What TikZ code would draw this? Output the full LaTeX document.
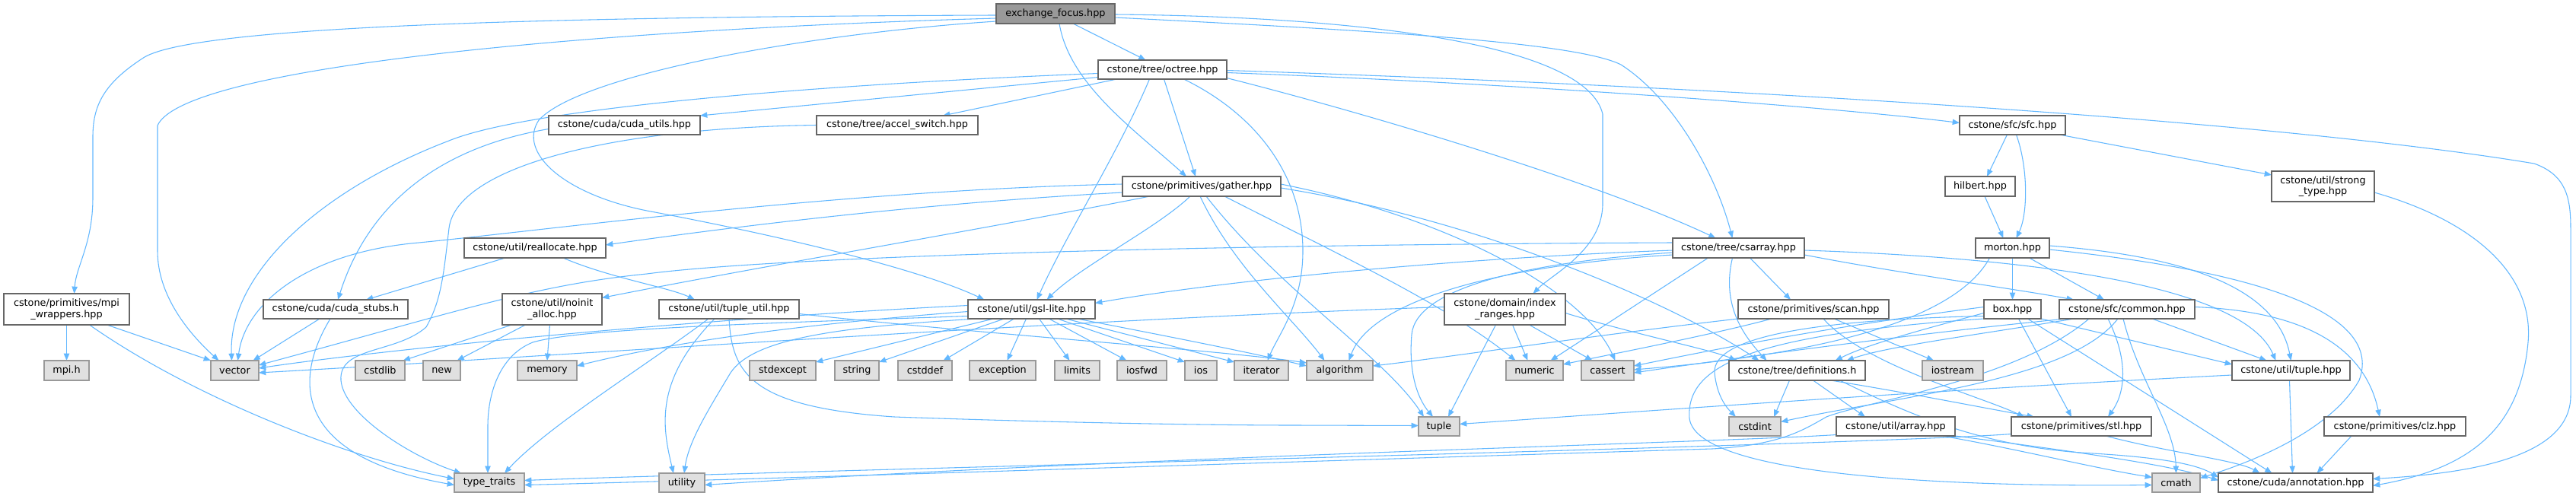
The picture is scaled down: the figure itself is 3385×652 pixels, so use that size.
\documentclass[tikz,border=0pt]{standalone}
\usepackage{fontspec}
\setmainfont{DejaVu Sans}
\usetikzlibrary{arrows.meta,calc}
\definecolor{eblue}{HTML}{63B8FF}
\definecolor{cdark}{HTML}{666666}
\definecolor{cmid}{HTML}{999999}
\definecolor{cleaf}{HTML}{E0E0E0}
\pgfdeclarelayer{bg}
\pgfdeclarelayer{paper}
\pgfsetlayers{paper,bg,main}
\newcommand\mknode[7]{\node[#6, minimum width={(#4-#2)*0.75pt}, minimum height={(#5-#3)*0.75pt}] (#1) at ({(#2+#4)/2},{(#3+#5)/2}) {#7};}
\begin{document}
\begin{tikzpicture}[x=0.75pt,y=-0.75pt,
  base/.style={draw, inner sep=0pt, outer sep=0pt, font=\fontsize{9.6}{11}\selectfont, align=center, line width=0.9pt},
  nrm/.style={base, draw=cdark, fill=white},
  leaf/.style={base, draw=cmid, fill=cleaf},
  mainnode/.style={base, draw=cdark, fill=cmid},
  edge/.style={draw=eblue, line width=0.8pt, -{Triangle[length=7pt,width=5.5pt]}}]
\useasboundingbox (0,0) rectangle (3385,652);
\begin{pgfonlayer}{paper}
\fill[white] (0,0) rectangle (3385,652);
\end{pgfonlayer}
% nodes
\mknode{ef}{1309}{5}{1465}{31}{mainnode}{exchange\_focus.hpp}
\mknode{mpiw}{5}{386}{170}{427}{nrm}{cstone/primitives/mpi\\\_wrappers.hpp}
\mknode{vector}{277}{474}{340}{500}{leaf}{vector}
\mknode{octree}{1443}{79}{1612}{104}{nrm}{cstone/tree/octree.hpp}
\mknode{gather}{1475}{232}{1683}{258}{nrm}{cstone/primitives/gather.hpp}
\mknode{gsl}{1272}{394}{1439}{419}{nrm}{cstone/util/gsl-lite.hpp}
\mknode{idx}{1898}{386}{2057}{427}{nrm}{cstone/domain/index\\\_ranges.hpp}
\mknode{csarray}{2198}{313}{2371}{339}{nrm}{cstone/tree/csarray.hpp}
\mknode{cudautils}{721}{152}{920}{177}{nrm}{cstone/cuda/cuda\_utils.hpp}
\mknode{accel}{1073}{152}{1285}{177}{nrm}{cstone/tree/accel\_switch.hpp}
\mknode{sfc}{2575}{152}{2714}{177}{nrm}{cstone/sfc/sfc.hpp}
\mknode{annot}{2915}{622}{3118}{647}{nrm}{cstone/cuda/annotation.hpp}
\mknode{hilbert}{2556}{232}{2648}{258}{nrm}{hilbert.hpp}
\mknode{strong}{2985}{225}{3120}{265}{nrm}{cstone/util/strong\\\_type.hpp}
\mknode{morton}{2596}{313}{2693}{339}{nrm}{morton.hpp}
\mknode{realloc}{610}{313}{796}{339}{nrm}{cstone/util/reallocate.hpp}
\mknode{cudastubs}{346}{394}{536}{419}{nrm}{cstone/cuda/cuda\_stubs.h}
\mknode{noinit}{660}{386}{791}{427}{nrm}{cstone/util/noinit\\\_alloc.hpp}
\mknode{tupleutil}{866}{394}{1050}{419}{nrm}{cstone/util/tuple\_util.hpp}
\mknode{mpih}{58}{474}{117}{500}{leaf}{mpi.h}
\mknode{cstdlib}{467}{474}{532}{500}{leaf}{cstdlib}
\mknode{new}{556}{474}{605}{500}{leaf}{new}
\mknode{memory}{680}{474}{758}{500}{leaf}{memory}
\mknode{typetraits}{597}{622}{689}{647}{leaf}{type\_traits}
\mknode{stdexcept}{985}{474}{1072}{500}{leaf}{stdexcept}
\mknode{string}{1097}{474}{1155}{500}{leaf}{string}
\mknode{cstddef}{1180}{474}{1251}{500}{leaf}{cstddef}
\mknode{exception}{1274}{474}{1361}{500}{leaf}{exception}
\mknode{limits}{1386}{474}{1445}{500}{leaf}{limits}
\mknode{iosfwd}{1468}{474}{1533}{500}{leaf}{iosfwd}
\mknode{ios}{1557}{474}{1599}{500}{leaf}{ios}
\mknode{iterator}{1622}{474}{1693}{500}{leaf}{iterator}
\mknode{utility}{866}{622}{926}{647}{leaf}{utility}
\mknode{algorithm}{1717}{474}{1804}{500}{leaf}{algorithm}
\mknode{numeric}{1979}{474}{2054}{500}{leaf}{numeric}
\mknode{cassert}{2078}{474}{2147}{500}{leaf}{cassert}
\mknode{tuple}{1864}{548}{1918}{573}{leaf}{tuple}
\mknode{scan}{2284}{394}{2482}{419}{nrm}{cstone/primitives/scan.hpp}
\mknode{defs}{2272}{474}{2451}{500}{nrm}{cstone/tree/definitions.h}
\mknode{cstdint}{2272}{548}{2340}{573}{leaf}{cstdint}
\mknode{array}{2413}{548}{2569}{573}{nrm}{cstone/util/array.hpp}
\mknode{iostream}{2526}{474}{2606}{500}{leaf}{iostream}
\mknode{box}{2607}{394}{2682}{419}{nrm}{box.hpp}
\mknode{common}{2706}{394}{2884}{419}{nrm}{cstone/sfc/common.hpp}
\mknode{tuplehpp}{2933}{474}{3088}{500}{nrm}{cstone/util/tuple.hpp}
\mknode{stl}{2643}{548}{2827}{573}{nrm}{cstone/primitives/stl.hpp}
\mknode{clz}{3054}{548}{3240}{573}{nrm}{cstone/primitives/clz.hpp}
\mknode{cmath}{2828}{622}{2891}{647}{leaf}{cmath}
\begin{pgfonlayer}{bg}
% exchange_focus
\draw[edge] ($(ef.west)+(0,2)$) .. controls (700,22) and (260,35) .. (190,75) .. controls (135,110) and (122,140) .. (122,180) -- (122,260) .. controls (122,320) and (100,350) .. ($(mpiw.north)+(10,0)$);
\draw[edge] ($(ef.west)+(0,6)$) .. controls (750,40) and (240,90) .. (207,165) -- (207,330) .. controls (207,390) and (250,440) .. ($(vector.north)+(-21,0)$);
\draw[edge] ($(ef.west)+(0,10)$) .. controls (1050,45) and (760,100) .. (708,158) .. controls (680,200) and (740,255) .. (850,277) .. controls (1000,305) and (1200,350) .. ($(gsl.north)+(-62,0)$);
\draw[edge] ($(ef.south)+(23,0)$) -- ($(octree.north)+(-22,0)$);
\draw[edge] ($(ef.south)+(5,0)$) .. controls (1405,110) and (1490,170) .. ($(gather.north)+(-20,0)$);
\draw[edge] ($(ef.east)+(0,1)$) .. controls (1800,22) and (2085,60) .. (2106,150) -- (2106,270) .. controls (2104,330) and (2040,360) .. ($(idx.north)+(37,0)$);
\draw[edge] ($(ef.east)+(0,5)$) .. controls (1800,40) and (2070,55) .. (2130,85) .. controls (2200,130) and (2255,230) .. ($(csarray.north)+(-8,0)$);
% octree
\draw[edge] ($(octree.west)+(0,10)$) -- (cudautils.north east);
\draw[edge] ($(octree.south)+(-60,0)$) -- ($(accel.north)+(60,0)$);
\draw[edge] ($(octree.south)+(2,0)$) -- ($(gather.north)+(-8,0)$);
\draw[edge] ($(octree.south)+(-17,0)$) .. controls (1470,200) and (1400,310) .. ($(gsl.north)+(7,0)$);
\draw[edge] ($(octree.south)+(28,0)$) .. controls (1650,150) and (1712,230) .. (1712,330) .. controls (1712,400) and (1680,440) .. ($(iterator.north)+(8,0)$);
\draw[edge] ($(octree.east)+(0,4)$) .. controls (2000,110) and (2400,140) .. ($(sfc.west)+(0,-3)$);
\draw[edge] ($(octree.east)+(0,1)$) .. controls (2300,115) and (3000,160) .. (3330,215) .. controls (3372,230) and (3378,260) .. (3378,300) -- (3378,520) .. controls (3378,600) and (3250,622) .. ($(annot.east)+(0,-5)$);
\draw[edge] ($(octree.east)+(0,11)$) .. controls (1800,150) and (2100,240) .. ($(csarray.north)+(-30,0)$);
\draw[edge] ($(octree.west)+(0,5)$) .. controls (1100,110) and (700,140) .. (590,185) .. controls (420,250) and (300,360) .. ($(vector.north)+(-4,0)$);
% cuda_utils, accel_switch
\draw[edge] ($(cudautils.west)+(0,5)$) .. controls (600,190) and (490,250) .. ($(cudastubs.north)+(3,0)$);
\draw[edge] (accel.west) .. controls (800,168) and (600,220) .. (590,300) .. controls (583,360) and (580,395) .. (560,430) .. controls (520,465) and (445,455) .. (448,500) .. controls (452,545) and (540,600) .. ($(typetraits.north)+(-37,0)$);
% mpi_wrappers
\draw[edge] (mpiw.south) -- (mpih.north);
\draw[edge] ($(mpiw.south)+(53,0)$) -- (vector.north west);
\draw[edge] ($(mpiw.south)+(30,0)$) .. controls (250,520) and (450,600) .. ($(typetraits.west)+(0,-5)$);
% cuda_stubs
\draw[edge] ($(cudastubs.south)+(-21,0)$) -- ($(vector.north)+(24,0)$);
\draw[edge] ($(cudastubs.south)+(-7,0)$) .. controls (385,500) and (385,600) .. ($(typetraits.west)+(0,3)$);
% reallocate
\draw[edge] ($(realloc.south)+(-39,0)$) -- ($(cudastubs.north)+(40,0)$);
\draw[edge] ($(realloc.south)+(37,0)$) .. controls (800,365) and (880,378) .. ($(tupleutil.north)+(-45,0)$);
% noinit
\draw[edge] ($(noinit.south)+(-53,0)$) -- ($(cstdlib.north)+(30,0)$);
\draw[edge] ($(noinit.south)+(-35,0)$) -- ($(new.north)+(20,0)$);
\draw[edge] ($(noinit.south)+(-3,0)$) -- (memory.north);
% gather
\draw[edge] ($(gather.west)+(0,-3)$) .. controls (1100,250) and (700,305) .. (540,320) .. controls (400,335) and (322,400) .. ($(vector.north)+(4,0)$);
\draw[edge] ($(gather.west)+(0,8)$) .. controls (1200,268) and (950,300) .. ($(realloc.east)+(0,-4)$);
\draw[edge] ($(gather.south)+(-68,0)$) .. controls (1300,300) and (1000,350) .. ($(noinit.east)+(0,-15)$);
\draw[edge] ($(gather.south)+(-15,0)$) .. controls (1520,300) and (1420,350) .. ($(gsl.north)+(20,0)$);
\draw[edge] ($(gather.south)+(-2,0)$) .. controls (1620,350) and (1700,420) .. ($(algorithm.north)+(-20,0)$);
\draw[edge] ($(gather.south)+(6,0)$) .. controls (1680,380) and (1820,470) .. ($(tuple.north)+(-20,0)$);
\draw[edge] ($(gather.south)+(30,0)$) .. controls (1750,330) and (1900,400) .. ($(numeric.north)+(-25,0)$);
\draw[edge] ($(gather.east)+(0,-3)$) .. controls (1900,285) and (2080,380) .. ($(cassert.north)+(10,0)$);
\draw[edge] ($(gather.east)+(0,2)$) .. controls (1950,290) and (2200,400) .. ($(defs.north)+(-50,0)$);
% tuple_util
\draw[edge] (tupleutil.south) .. controls (962,490) and (985,535) .. (1175,548) .. controls (1400,556) and (1600,559) .. (1700,559) -- ($(tuple.west)+(0,-1)$);
\draw[edge] ($(tupleutil.south)+(-19,0)$) .. controls (860,500) and (870,560) .. ($(utility.north)+(-11,0)$);
\draw[edge] ($(tupleutil.south)+(-27,0)$) .. controls (850,480) and (720,560) .. ($(typetraits.north)+(20,0)$);
\draw[edge] ($(tupleutil.east)+(0,6)$) .. controls (1300,440) and (1600,460) .. ($(algorithm.west)+(0,-10)$);
% gsl-lite
\draw[edge] ($(gsl.south)+(-50,0)$) -- ($(stdexcept.north east)+(0,2)$);
\draw[edge] ($(gsl.south)+(-36,0)$) -- ($(string.north east)+(0,2)$);
\draw[edge] ($(gsl.south)+(-23,0)$) -- ($(cstddef.north)+(24,0)$);
\draw[edge] ($(gsl.south)+(-7,0)$) -- ($(exception.north)+(6,0)$);
\draw[edge] ($(gsl.south)+(10,0)$) -- ($(limits.north)+(-10,0)$);
\draw[edge] ($(gsl.south)+(23,0)$) -- ($(iosfwd.north)+(-20,0)$);
\draw[edge] ($(gsl.south)+(34,0)$) -- ($(ios.north west)+(0,2)$);
\draw[edge] ($(gsl.south)+(45,0)$) -- ($(iterator.north west)+(0,2)$);
\draw[edge] ($(gsl.south)+(60,0)$) .. controls (1550,445) and (1650,465) .. ($(algorithm.west)+(0,-6)$);
\draw[edge] ($(gsl.west)+(0,-5)$) .. controls (900,420) and (500,460) .. ($(vector.east)+(0,-3)$);
\draw[edge] ($(gsl.west)+(0,3)$) .. controls (1000,430) and (850,458) .. ($(memory.east)+(0,-6)$);
\draw[edge] ($(gsl.west)+(0,9)$) .. controls (1000,425) and (760,432) .. (700,450) .. controls (655,468) and (641,520) .. (641,560) -- ($(typetraits.north)+(-2,0)$);
\draw[edge] ($(gsl.south west)+(12,0)$) .. controls (1100,430) and (990,445) .. (960,490) .. controls (930,540) and (905,580) .. ($(utility.north)+(3,0)$);
% index_ranges
\draw[edge] ($(idx.west)+(0,-3)$) .. controls (1400,420) and (700,470) .. ($(vector.east)+(0,3)$);
\draw[edge] ($(idx.south)+(-12,0)$) -- ($(tuple.north)+(12,0)$);
\draw[edge] ($(idx.south)+(10,0)$) -- ($(numeric.north)+(-9,0)$);
\draw[edge] ($(idx.south)+(32,0)$) -- ($(cassert.north)+(-20,0)$);
\draw[edge] ($(idx.east)+(0,5)$) .. controls (2150,440) and (2250,460) .. ($(defs.north)+(-80,0)$);
% csarray
\draw[edge] ($(csarray.west)+(0,-7)$) .. controls (1500,322) and (1000,340) .. (850,360) .. controls (700,375) and (600,410) .. ($(vector.east)+(0,-7)$);
\draw[edge] ($(csarray.west)+(0,3)$) .. controls (1900,340) and (1600,370) .. ($(gsl.east)+(0,-8)$);
\draw[edge] ($(csarray.west)+(0,6)$) .. controls (2000,345) and (1860,380) .. (1855,440) .. controls (1850,500) and (1868,530) .. ($(tuple.north)+(-8,0)$);
\draw[edge] ($(csarray.west)+(0,9)$) .. controls (1950,350) and (1800,400) .. ($(algorithm.north)+(12,0)$);
\draw[edge] ($(csarray.south)+(-40,0)$) -- ($(numeric.north)+(21,0)$);
\draw[edge] ($(csarray.south)+(-8,0)$) .. controls (2262,400) and (2290,440) .. ($(defs.north)+(-40,0)$);
\draw[edge] ($(csarray.south)+(15,0)$) -- ($(scan.north)+(-30,0)$);
\draw[edge] ($(csarray.east)+(0,9)$) .. controls (2500,360) and (2650,380) .. ($(common.north)+(-70,0)$);
\draw[edge] ($(csarray.east)+(0,3)$) .. controls (2700,340) and (2950,380) .. ($(tuplehpp.north)+(-20,0)$);
% scan
\draw[edge] (scan.south west) .. controls (2100,440) and (1900,470) .. ($(algorithm.east)+(0,-6)$);
\draw[edge] ($(scan.south)+(-55,0)$) .. controls (2250,440) and (2120,465) .. ($(numeric.east)+(0,-8)$);
\draw[edge] ($(scan.south)+(27,0)$) -- ($(iostream.north)+(-25,0)$);
\draw[edge] ($(scan.south)+(13,0)$) .. controls (2450,480) and (2600,520) .. ($(stl.north)+(-75,0)$);
% definitions
\draw[edge] ($(defs.south)+(-10,0)$) -- ($(cstdint.north)+(25,0)$);
\draw[edge] ($(defs.south)+(21,0)$) -- ($(array.north)+(-40,0)$);
\draw[edge] ($(defs.south)+(44,0)$) .. controls (2500,515) and (2600,535) .. ($(stl.north)+(-62,0)$);
\draw[edge] ($(defs.south)+(56,0)$) .. controls (2500,540) and (2600,588) .. (2750,596) .. controls (2850,602) and (2890,612) .. ($(annot.west)+(0,-7)$);
% array
\draw[edge] ($(array.south)+(61,0)$) .. controls (2650,590) and (2750,615) .. ($(cmath.west)+(0,-7)$);
\draw[edge] (array.south east) .. controls (2700,590) and (2850,610) .. ($(annot.west)+(0,-3)$);
\draw[edge] ($(array.west)+(0,11)$) .. controls (2250,582) and (1500,600) .. ($(utility.east)+(0,3)$);
% stl
\draw[edge] ($(stl.south)+(32,0)$) .. controls (2850,595) and (2940,605) .. ($(annot.north)+(-47,0)$);
\draw[edge] ($(stl.west)+(0,10)$) .. controls (2450,585) and (1000,620) .. ($(typetraits.east)+(0,-3)$);
% box
\draw[edge] ($(box.west)+(0,-3)$) .. controls (2400,430) and (2250,460) .. ($(cassert.east)+(0,-6)$);
\draw[edge] ($(box.west)+(0,5)$) .. controls (2500,440) and (2450,455) .. ($(defs.north)+(50,0)$);
\draw[edge] ($(box.south)+(8,0)$) -- ($(stl.north)+(-13,0)$);
\draw[edge] ($(box.south)+(20,0)$) -- ($(annot.north)+(-31,0)$);
\draw[edge] (box.south east) -- ($(tuplehpp.west)+(0,-8)$);
\draw[edge] ($(box.west)+(0,9)$) .. controls (2400,420) and (2250,440) .. (2253,490) .. controls (2256,520) and (2268,535) .. ($(cstdint.north)+(-25,0)$);
\draw[edge] (box.south west) .. controls (2300,440) and (2215,480) .. (2220,550) .. controls (2230,630) and (2600,640) .. ($(cmath.west)+(0,3)$);
% common
\draw[edge] ($(common.south)+(-70,0)$) .. controls (2600,440) and (2480,455) .. ($(defs.north)+(65,0)$);
\draw[edge] ($(common.south)+(-80,0)$) .. controls (2500,440) and (2250,475) .. ($(cassert.east)+(0,3)$);
\draw[edge] ($(common.south)+(-12,0)$) .. controls (2720,500) and (2500,520) .. ($(cstdint.east)+(0,-6)$);
\draw[edge] ($(common.south)+(-50,0)$) .. controls (2650,500) and (2450,528) .. (2400,548) .. controls (2370,565) and (2340,585) .. (2250,590) .. controls (1600,610) and (1000,630) .. ($(typetraits.east)+(0,3)$);
\draw[edge] ($(common.south)+(-25,0)$) .. controls (2800,480) and (2790,520) .. ($(stl.north)+(35,0)$);
\draw[edge] ($(common.south)+(-5,0)$) .. controls (2810,500) and (2858,560) .. (cmath.north);
\draw[edge] ($(common.south)+(33,0)$) -- ($(tuplehpp.north)+(-32,0)$);
\draw[edge] ($(common.east)+(0,-3)$) .. controls (3050,410) and (3110,470) .. ($(clz.north)+(-20,0)$);
% morton
\draw[edge] (morton.south) -- (box.north);
\draw[edge] ($(morton.south)+(22,0)$) -- ($(common.north)+(-30,0)$);
\draw[edge] ($(morton.east)+(0,-3)$) .. controls (2850,335) and (2990,370) .. (tuplehpp.north);
\draw[edge] ($(morton.east)+(0,2)$) .. controls (3000,360) and (3130,420) .. (3100,500) .. controls (3060,570) and (2950,610) .. ($(cmath.east)+(0,-6)$);
\draw[edge] ($(morton.south)+(-30,0)$) .. controls (2570,420) and (2400,465) .. ($(cassert.east)+(0,-1)$);
% sfc, hilbert, strong_type
\draw[edge] ($(hilbert.south)+(6,0)$) -- ($(morton.north)+(-12,0)$);
\draw[edge] ($(sfc.south)+(-7,0)$) -- ($(hilbert.north)+(9,0)$);
\draw[edge] ($(sfc.south)+(5,0)$) .. controls (2665,220) and (2665,280) .. ($(morton.north)+(5,0)$);
\draw[edge] ($(sfc.south east)+(-8,0)$) -- ($(strong.west)+(0,-15)$);
\draw[edge] ($(strong.east)+(0,8)$) .. controls (3250,290) and (3330,360) .. (3322,450) .. controls (3312,560) and (3250,615) .. ($(annot.east)+(0,4)$);
% tuple.hpp, clz
\draw[edge] ($(tuplehpp.west)+(0,6)$) .. controls (2500,515) and (2100,545) .. ($(tuple.east)+(0,-3)$);
\draw[edge] ($(tuplehpp.south)+(-2,0)$) -- ($(annot.north)+(-4,0)$);
\draw[edge] ($(clz.south)+(-57,0)$) -- ($(annot.north)+(28,0)$);
\end{pgfonlayer}
\end{tikzpicture}
\end{document}
